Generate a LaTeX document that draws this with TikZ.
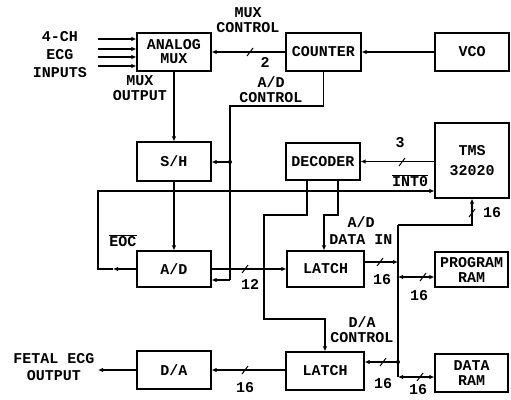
\documentclass[tikz,border=0pt]{standalone}
\usepackage{fontspec}
\setmonofont{Liberation Mono}
\usetikzlibrary{arrows.meta}
\newcommand\dfont{\ttfamily\bfseries\fontsize{15}{15}\selectfont}
\begin{document}
\begin{tikzpicture}[x=1pt,y=-1pt,
  box/.style={draw, line width=1.2pt, inner sep=0pt, align=center, font=\dfont},
  wire/.style={line width=1.2pt},
  arr/.style={wire, -{Latex[length=5pt,width=4.5pt]}},
  darr/.style={wire, {Latex[length=5pt,width=4.5pt]}-{Latex[length=5pt,width=4.5pt]}},
  txt/.style={inner sep=0pt, align=center, font=\dfont},
  busmark/.pic={\draw[line width=1pt] (-3,4) -- (3,-4);}
]
\useasboundingbox (0,0) rectangle (511,399);

% boxes
\node[box, minimum width=74pt, minimum height=38pt] (mux) at (174,52) {ANALOG\\[-1pt]MUX};
\node[box, minimum width=75pt, minimum height=38pt] (counter) at (323.5,52) {COUNTER};
\node[box, minimum width=74pt, minimum height=38pt] (vco) at (472,52) {VCO};
\node[box, minimum width=74pt, minimum height=39pt] (sh) at (174,161.5) {S/H};
\node[box, minimum width=74pt, minimum height=36pt] (ad) at (174,269) {A/D};
\node[box, minimum width=74pt, minimum height=38pt] (da) at (174,370) {D/A};
\node[box, minimum width=74pt, minimum height=37pt] (dec) at (323,161.5) {DECODER};
\node[box, minimum width=74pt, minimum height=75pt] (tms) at (472,160.5) {TMS\\[5pt]32020};
\node[box, minimum width=77pt, minimum height=36pt] (latA) at (325.5,269) {LATCH};
\node[box, minimum width=78pt, minimum height=38pt] (latB) at (325,371) {LATCH};
\node[box, minimum width=73pt, minimum height=35pt] (pram) at (471.5,269.5) {PROGRAM\\RAM};
\node[box, minimum width=73pt, minimum height=38pt] (dram) at (471.5,373) {DATA\\RAM};

% labels
\node[txt] (tin) at (60,55) {4-CH\\[3pt]ECG\\[3pt]INPUTS};
\node[txt] (tmuxout) at (140,88) {MUX\\OUTPUT};
\node[txt] (tmuxc) at (248,20.5) {MUX\\CONTROL};
\node[txt] (t2) at (265,62) {2};
\node[txt] (tadc) at (271,89.5) {A/D\\CONTROL};
\node[txt] (teoc) at (123,241) {$\overline{\mbox{EOC}}$};
\node[txt] (tint) at (410,181) {$\overline{\mbox{INT0}}$};
\node[txt] (t3) at (400,143) {3};
\node[txt] (t16a) at (492,213) {16};
\node[txt] (tdin) at (361,230.5) {A/D\\[2pt]DATA IN};
\node[txt] (t12) at (250,284) {12};
\node[txt] (t16b) at (382,280) {16};
\node[txt] (t16c) at (419,296) {16};
\node[txt] (tdac) at (362,329.5) {D/A\\CONTROL};
\node[txt] (t16d) at (383,384) {16};
\node[txt] (t16e) at (418,390) {16};
\node[txt] (t16f) at (245,388) {16};
\node[txt] (tout) at (54,367.5) {FETAL ECG\\[2pt]OUTPUT};

% inputs
\coordinate (i1) at (98,39);
\coordinate (i2) at (98,49);
\coordinate (i3) at (98,57);
\coordinate (i4) at (98,66);
\foreach \i in {1,...,4} \draw[arr] (i\i) -- (i\i -| mux.west);

\draw[arr] (counter.west) -- (mux.east);
\pic at (250,52) {busmark};
\draw[arr] (vco.west) -- (counter.east);
\draw[arr] (mux.south) -- (sh.north);
\draw[arr] (sh.south) -- (ad.north);

% A/D control
\coordinate (c1) at (230,106);
\coordinate (c2) at (230,162);
\coordinate (c3) at (230,280);
\draw[wire] (counter.south) |- (c1) -- (c3);
\draw[arr] (c3) -- (c3 -| ad.east);
\draw[arr] (c2) -- (c2 -| sh.east);
\fill (c2) circle (2pt);

% EOC
\coordinate (e0) at (113,269);
\coordinate (e1) at (98,269);
\coordinate (e2) at (98,191);
\draw[arr] (ad.west) -- (e0);
\draw[arr] (e0) -- (e1) -- (e2) -- (e2 -| tms.west);

% TMS -> decoder
\draw[arr] (tms.west |- dec.east) -- (dec.east);
\pic at (402,162) {busmark};

% decoder outputs
\coordinate (d1) at (307,215);
\coordinate (d2) at (264,215);
\coordinate (d3) at (264,319);
\coordinate (d4) at (325,319);
\draw[arr] (d1 |- dec.south) -- (d1) -- (d2) -- (d3) -- (d4) -- (d4 |- latB.north);
\coordinate (d5) at (338,215);
\coordinate (d6) at (324,215);
\draw[arr] (d5 |- dec.south) -- (d5) -- (d6) -- (d6 |- latA.north);

% A/D -> latch
\draw[arr] (ad.east) -- (latA.west);
\pic at (245,269) {busmark};

% data bus
\coordinate (b0) at (398,225);
\coordinate (b1) at (398,262);
\coordinate (b2) at (398,277);
\coordinate (b3) at (398,362);
\coordinate (b4) at (398,377);
\coordinate (bt) at (472,225);
\draw[arr] (b1 -| latA.east) -- (b1);
\pic at (380,262) {busmark};
\draw[wire] (b0) -- (b4);
\draw[arr] (b0) -- (bt) -- (tms.south);
\pic at (472,213) {busmark};
\draw[darr] (b2) -- (b2 -| pram.west);
\pic at (423,277) {busmark};
\draw[arr] (b3) -- (b3 -| latB.east);
\fill (b3) circle (2pt);
\pic at (383,362) {busmark};
\draw[darr] (b4) -- (b4 -| dram.west);
\pic at (420,377) {busmark};

% latch -> D/A -> output
\draw[arr] (latB.west |- da.east) -- (da.east);
\pic at (245,370) {busmark};
\coordinate (o1) at (98,370);
\draw[arr] (da.west) -- (o1);
\end{tikzpicture}
\end{document}
